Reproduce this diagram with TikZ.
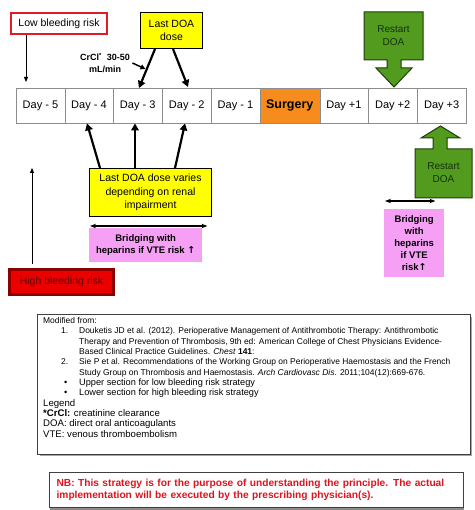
\documentclass[tikz,border=0pt]{standalone}
\usepackage{fontspec}
\setmainfont{Liberation Sans}
\newfontfamily\arrowfont{DejaVu Sans}
\usetikzlibrary{arrows.meta}
\definecolor{lowred}{RGB}{220,30,40}
\definecolor{doayellow}{RGB}{255,255,0}
\definecolor{surgorange}{RGB}{247,140,30}
\definecolor{doagreen}{RGB}{82,155,30}
\definecolor{greenline}{RGB}{30,60,10}
\definecolor{greentext}{RGB}{20,50,10}
\definecolor{bridgepink}{RGB}{245,160,245}
\definecolor{highred}{RGB}{235,0,0}
\definecolor{darkred}{RGB}{140,0,0}
\definecolor{maroon}{RGB}{100,0,0}
\definecolor{nbred}{RGB}{220,20,30}
\newcommand\refsize[1]{\fontsize{#1}{10.35}\selectfont}
\newcommand\bulletline[1]{\refsize{9.2}\hspace*{21pt}\makebox[15pt][l]{•}#1}
\newcommand\legendline[1]{\refsize{9.6}#1}
\begin{document}
\begin{tikzpicture}[x=1pt,y=-1pt,
    cell/.style={draw=black!45, minimum height=35pt, inner sep=0pt,
      anchor=north west, font=\fontsize{11}{13}\selectfont},
    box/.style={draw, line width=1pt, align=center, inner sep=0pt,
      anchor=north west},
    bridge/.style={fill=bridgepink, align=center, inner sep=0pt,
      anchor=north west, font=\fontsize{9.5}{12}\selectfont\bfseries},
    bigarrow/.style={line width=2.2pt, -{Triangle[length=7pt,width=7.5pt]}},
    thinarrow/.style={line width=0.8pt, -{Triangle[length=5pt,width=4pt]}},
    span/.style={line width=1.5pt, {Stealth[length=6pt]}-{Stealth[length=6pt]}}]
  \useasboundingbox (0,0) rectangle (474,510);
  % timeline
  \foreach \n/\x/\w/\t in {dm5/16/48.5/Day - 5, dm4/64.5/48.5/Day - 4,
      dm3/113/49/Day - 3, dm2/162/49/Day - 2, dm1/211/48.5/Day - 1,
      dp1/319.5/48.5/Day +1, dp2/368/49/Day +2, dp3/417/49/Day +3}
    \node[cell, minimum width=\w pt] (\n) at (\x,88) {\t};
  \node[cell, fill=surgorange, minimum width=60pt,
    font=\fontsize{12.5}{14}\selectfont\bfseries] (surg) at (259.5,88) {Surgery};
  % upper section
  \node[box, draw=lowred, line width=2pt, minimum width=96pt, minimum height=21pt,
    font=\fontsize{10.5}{13}\selectfont] (lowrisk) at (10,12) {Low bleeding risk};
  \draw[thinarrow] ([xshift=16pt]lowrisk.south west)
    -- ([xshift=10pt,yshift=6pt]dm5.north west);
  \node[box, fill=doayellow, minimum width=62pt, minimum height=36pt,
    font=\fontsize{10.5}{13}\selectfont] (lastdose) at (140,12) {Last DOA\\dose};
  \draw[bigarrow] ([xshift=15pt]lastdose.south west) -- ([xshift=26pt]dm3.north west);
  \draw[bigarrow] ([xshift=33pt]lastdose.south west)
    -- ([xshift=26pt,yshift=1pt]dm2.north west);
  \node[align=center, font=\fontsize{9}{12}\selectfont\bfseries] (crcl) at (105,63)
    {CrCl\textsuperscript{*}\ \ 30-50\\mL/min};
  \draw[line width=1.5pt, -{Triangle[length=5pt,width=5pt]}]
    ([xshift=-1pt]crcl.east) -- ++(13,6);
  \draw[draw=greenline, fill=doagreen, line width=1pt]
    (364,12) -- (423,12) -- (423,60) -- (401,60) -- (401,68) -- (412,68)
    -- (394,87) -- (376,68) -- (387,68) -- (387,60) -- (364,60) -- cycle;
  \node[align=center, text=greentext, font=\fontsize{10}{13}\selectfont]
    (restart1) at (393.5,36) {Restart\\DOA};
  % lower section
  \node[box, fill=doayellow, minimum width=122pt, minimum height=48pt,
    font=\fontsize{10.5}{13.5}\selectfont] (renal) at (89,168)
    {Last DOA dose varies\\depending on renal\\impairment};
  \draw[bigarrow] ([xshift=11pt]renal.north west) -- ([xshift=22.5pt]dm4.south west);
  \draw[bigarrow] ([xshift=46pt]renal.north west) -- ([xshift=22pt]dm3.south west);
  \draw[bigarrow] ([xshift=86pt]renal.north west) -- ([xshift=23pt]dm2.south west);
  \node[bridge, minimum width=113pt, minimum height=34pt] (bridgeL) at (89,228)
    {Bridging with\\heparins if VTE risk {\arrowfont\bfseries ↑}};
  \draw[span] ([xshift=1pt,yshift=2pt]bridgeL.north west)
    -- ([xshift=5pt,yshift=2pt]bridgeL.north east);
  \node[box, fill=highred, draw=darkred, line width=3pt, minimum width=104pt,
    minimum height=25pt, text=maroon, font=\fontsize{10.5}{13}\selectfont]
    (highrisk) at (8,268) {High bleeding risk};
  \coordinate (hrtop) at (32,168);
  \draw[thinarrow] ([xshift=24pt,yshift=4pt]highrisk.north west) -- (hrtop);
  \draw[draw=greenline, fill=doagreen, line width=1pt]
    (415,198) -- (472,198) -- (472,149) -- (447,149) -- (447,138) -- (460,138)
    -- (440.5,126) -- (421,138) -- (433,138) -- (433,149) -- (415,149) -- cycle;
  \node[align=center, text=greentext, font=\fontsize{10}{13}\selectfont]
    (restart2) at (443.5,173) {Restart\\DOA};
  \node[bridge, minimum width=60pt, minimum height=68pt] (bridgeR) at (384,209)
    {Bridging\\with\\heparins\\if VTE\\risk{\arrowfont\bfseries ↑}};
  \draw[span] ([xshift=1pt,yshift=8pt]bridgeR.north west)
    -- ([xshift=-9pt,yshift=8pt]bridgeR.north east);
  % references and legend
  \fill[black!35] (39.5,316.5) rectangle (471.5,455.5);
  \draw[black!75, line width=1pt, fill=white] (37,314) rectangle (470,454);
  \node[anchor=north west, align=left, inner sep=0pt,
    font=\refsize{8.45}] (refs) at (43,317) {Modified from:\\
    \hspace*{18pt}\makebox[18pt][l]{1.}Douketis JD et al. (2012). Perioperative Management of Antithrombotic Therapy: Antithrombotic\\
    \hspace*{36pt}Therapy and Prevention of Thrombosis, 9th ed: American College of Chest Physicians Evidence-\\
    \hspace*{36pt}Based Clinical Practice Guidelines. \textit{Chest} \textbf{141}:\\
    \hspace*{18pt}\makebox[18pt][l]{2.}Sie P et al. Recommendations of the Working Group on Perioperative Haemostasis and the French\\
    \hspace*{36pt}Study Group on Thrombosis and Haemostasis. \textit{Arch Cardiovasc Dis.} 2011;104(12):669-676.\\
    \bulletline{Upper section for low bleeding risk strategy}\\
    \bulletline{Lower section for high bleeding risk strategy}\\
    \legendline{Legend}\\
    \legendline{\textbf{*CrCl:} creatinine clearance}\\
    \legendline{DOA: direct oral anticoagulants}\\
    \legendline{VTE: venous thromboembolism}};
  % note
  \fill[black!45] (50,473.5) rectangle (464,509.5);
  \node[draw=black!75, line width=1.2pt, fill=white, anchor=north west,
    text width=400pt, inner xsep=7pt, minimum height=35pt, align=left,
    text=nbred, font=\fontsize{10.2}{12}\selectfont\bfseries] (nb) at (49,472)
    {NB: This strategy is for the purpose of understanding the principle. The actual\\
     implementation will be executed by the prescribing physician(s).};
\end{tikzpicture}
\end{document}
